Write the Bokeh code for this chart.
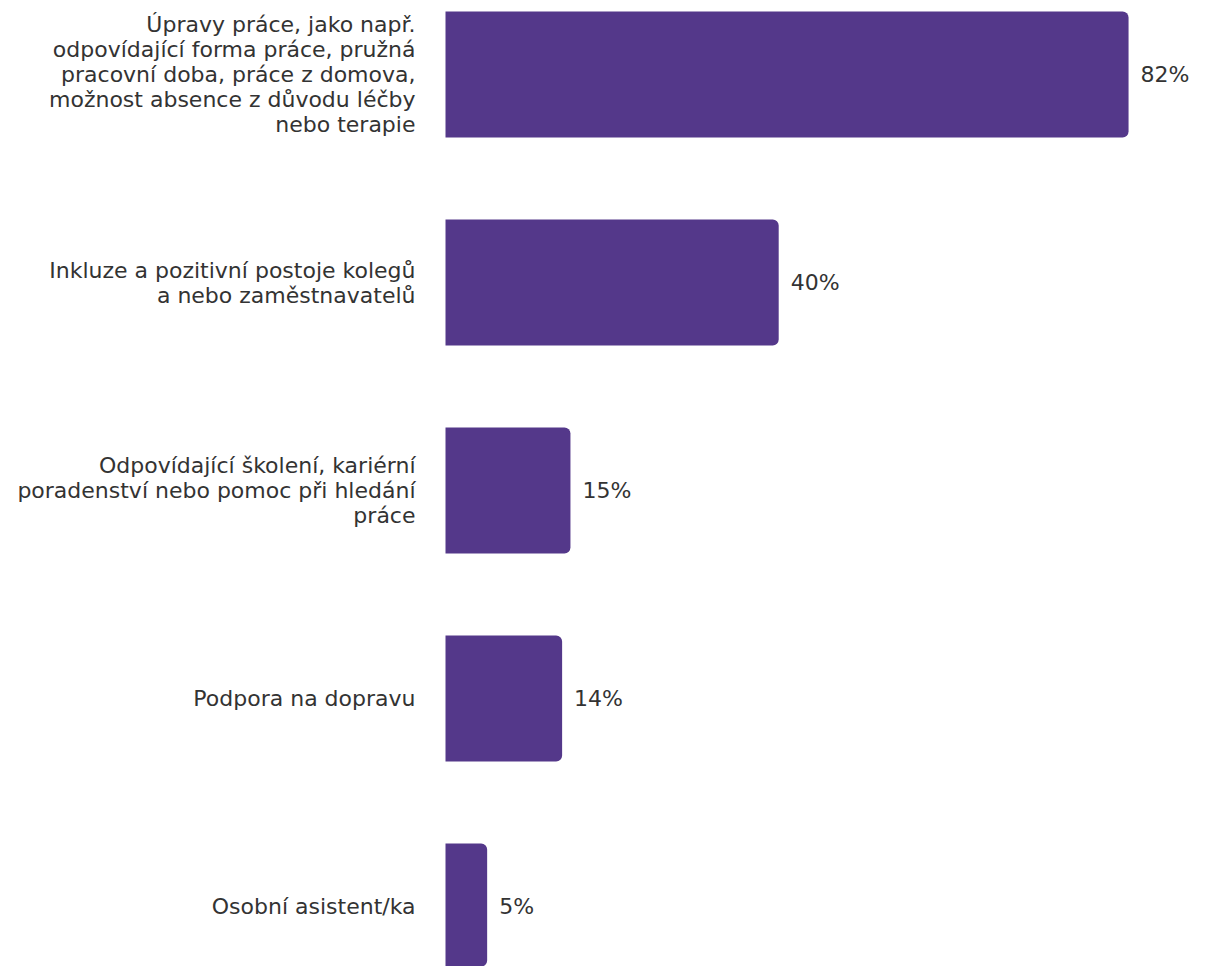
from bokeh.plotting import figure
from bokeh.models import ColumnDataSource, Range1d
from bokeh.core.properties import value
from bokeh.embed import file_html
from bokeh.resources import INLINE

categories = [
    "Úpravy práce, jako např.\nodpovídající forma práce, pružná\npracovní doba, práce z domova,\nmožnost absence z důvodu léčby\nnebo terapie",
    "Inkluze a pozitivní postoje kolegů\na nebo zaměstnavatelů",
    "Odpovídající školení, kariérní\nporadenství nebo pomoc při hledání\npráce",
    "Podpora na dopravu",
    "Osobní asistent/ka",
]
values = [82, 40, 15, 14, 5]
value_labels = [f"{v}%" for v in values]
positions = list(range(len(categories)))

src = ColumnDataSource(dict(cat=categories, val=values, lab=value_labels, pos=positions,
                            zero=[0] * len(values)))

FONT = value("DejaVu Sans")
W, H = 1220, 966
px_per_unit = 8.33
x0_px = 445
p = figure(width=W, height=H, output_backend="svg", toolbar_location=None,
           x_range=Range1d(-x0_px / px_per_unit, (W - x0_px) / px_per_unit),
           y_range=Range1d(4 + 60 / 208, -74 / 208),
           min_border=0, min_border_left=0, min_border_right=0,
           min_border_top=0, min_border_bottom=0)
p.axis.visible = False
p.grid.visible = False
p.outline_line_color = None
p.background_fill_color = "white"
p.border_fill_color = "white"

p.hbar(y="pos", left=0, right="val", height=0.606, source=src,
       fill_color="#54388a", line_color=None, border_radius=(0, 6, 6, 0))

p.text(x="val", y="pos", text="lab", source=src, x_offset=12,
       text_align="left", text_baseline="middle", text_font=FONT,
       text_font_size="22px", text_color="#333333")

p.text(x="zero", y="pos", text="cat", source=src, x_offset=-30,
       text_align="right", text_baseline="middle", text_font=FONT,
       text_font_size="22px", text_color="#333333", text_line_height=1.0)

open("out.html", "w").write(file_html(p, INLINE))
